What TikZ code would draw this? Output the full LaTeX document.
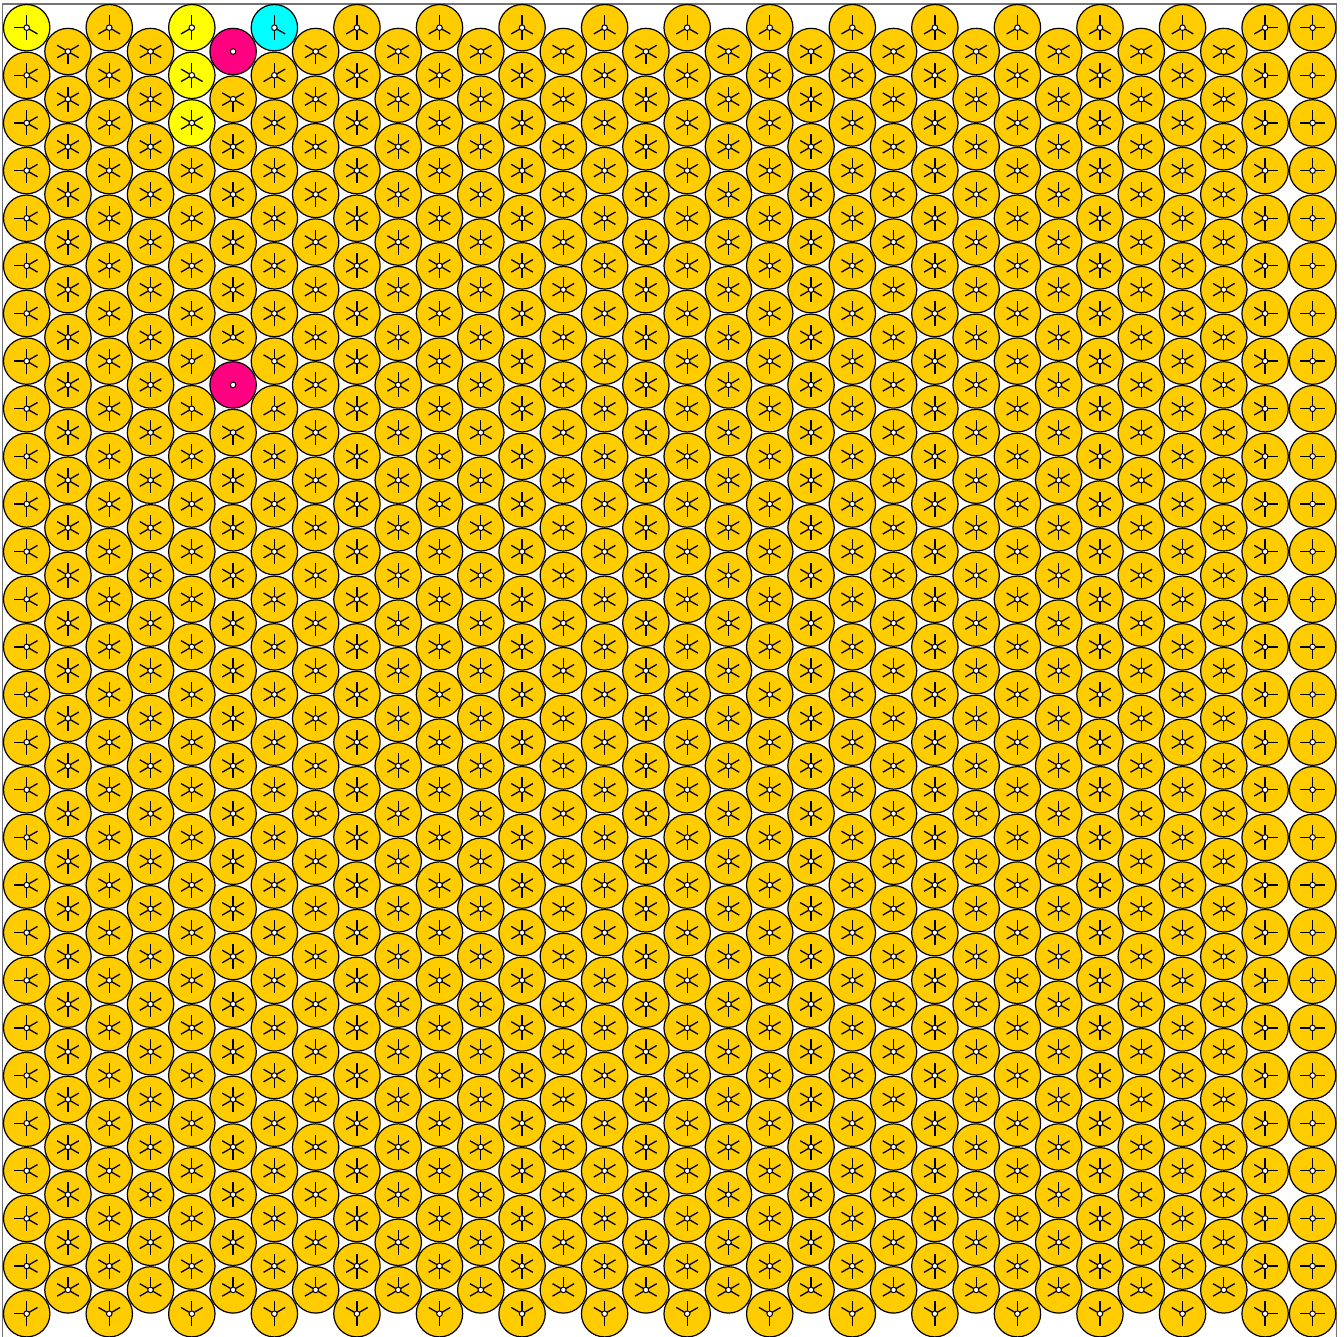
\documentclass[tikz,border=0pt]{standalone}
\definecolor{gold}{HTML}{FFCC00}
\definecolor{yel}{HTML}{FFFF00}
\definecolor{cya}{HTML}{00FFFF}
\definecolor{mag}{HTML}{FF0080}
\newcommand\magq[2]{and((#1)==5,or((#2)==0,(#2)==7))}
\begin{document}
\begin{tikzpicture}[x=1pt,y=-1pt,
  disc/.style={draw=black,line width=1.2pt},
  spoke/.style={draw=black,line width=1.3pt},
  hub/.style={draw=black,fill=white,line width=1pt},
  frame/.style={draw=black!55,line width=1.4pt}]
\useasboundingbox (0,0) rectangle (1344,1337);
\clip (0,0) rectangle (1344,1337);
\draw[frame] (2.7,1345) -- (2.7,4) -- (1336.7,4) -- (1336.7,1345);
\def\L{12.5}
\foreach \i in {0,...,31}{
  \pgfmathsetmacro{\cx}{\i<31 ? 26.7+\i*41.28 : 1312.6}
  \pgfmathtruncatemacro{\od}{\i<31 ? mod(\i,2) : 0}
  \pgfmathtruncatemacro{\nr}{\od==1 ? 26 : 27}
  \pgfmathsetmacro{\yo}{\od==1 ? 51.52 : 27.7}
  \foreach \j in {0,...,\nr}{
    \pgfmathsetmacro{\cy}{\yo+\j*47.63}
    \pgfmathtruncatemacro{\ck}{and(\i==0,\j==0)+and(\i==4,\j<3)+2*and(\i==6,\j==0)+3*\magq{\i}{\j}}
    \ifcase\ck \def\fc{gold}\or \def\fc{yel}\or \def\fc{cya}\or \def\fc{mag}\fi
    \draw[disc,fill=\fc] (\cx,\cy) circle (23.2);
    \ifnum\i=31
      \draw[spoke] (\cx,\cy-\L) -- (\cx,\cy+\L);
      \draw[spoke] (\cx-\L,\cy) -- (\cx+\L,\cy);
    \else
     \ifnum\ck=3 \else
      \ifnum\od=0
        \pgfmathtruncatemacro{\fUL}{and(and(\i>0,\j>0),not(\magq{\i-1}{\j-1}))}
        \pgfmathtruncatemacro{\fDL}{and(and(\i>0,\j<27),not(\magq{\i-1}{\j}))}
        \pgfmathtruncatemacro{\fUR}{and(and(\i<30,\j>0),not(\magq{\i+1}{\j-1}))}
        \pgfmathtruncatemacro{\fDR}{and(and(\i<30,\j<27),not(\magq{\i+1}{\j}))}
        \def\fU{1}\def\fD{1}
      \else
        \def\fUL{1}\def\fDL{1}\def\fUR{1}\def\fDR{1}
        \pgfmathtruncatemacro{\fU}{and(\j>0,not(\magq{\i}{\j-1}))}
        \pgfmathtruncatemacro{\fD}{and(\j<26,not(\magq{\i}{\j+1}))}
      \fi
      \ifnum\fU=1 \draw[spoke] (\cx,\cy) -- ++(0,-\L);\fi
      \ifnum\fD=1 \draw[spoke] (\cx,\cy) -- ++(0,\L);\fi
      \ifnum\fUL=1 \draw[spoke] (\cx,\cy) -- ++(-0.866*\L,-0.5*\L);\fi
      \ifnum\fDL=1 \draw[spoke] (\cx,\cy) -- ++(-0.866*\L,0.5*\L);\fi
      \ifnum\fUR=1 \draw[spoke] (\cx,\cy) -- ++(0.866*\L,-0.5*\L);\fi
      \ifnum\fDR=1 \draw[spoke] (\cx,\cy) -- ++(0.866*\L,0.5*\L);\fi
      \ifnum\i=0 \draw[spoke] (\cx,\cy) -- ++(-\L,0);\fi
      \ifnum\i=30 \draw[spoke] (\cx,\cy) -- ++(\L,0);\fi
     \fi
    \fi
    \draw[hub] (\cx,\cy) circle (2.8);
  }
}
\end{tikzpicture}
\end{document}
